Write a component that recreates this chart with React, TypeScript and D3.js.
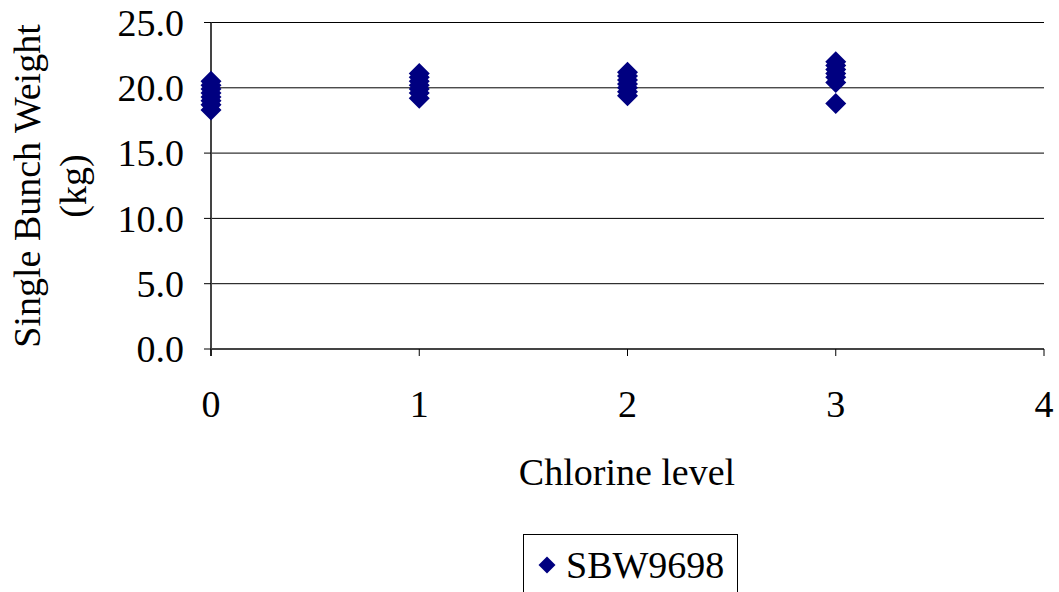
import React from "react";
import * as d3 from "d3";

// Chlorine level treatments and the single bunch weights (kg) recorded at each
const chlorineLevels = [0, 1, 2, 3];
const weightsLevel0 = [20.5, 20.2, 19.9, 19.6, 19.3, 19.0, 18.7, 18.3];
const weightsLevel1 = [21.1, 20.8, 20.5, 20.2, 19.9, 19.6, 19.2];
const weightsLevel2 = [21.2, 20.9, 20.6, 20.3, 20.0, 19.7, 19.4];
const weightsLevel3 = [22.0, 21.7, 21.4, 21.1, 20.8, 20.4, 18.8];
const yTicks = [0, 5, 10, 15, 20, 25];
const xTicks = [0, 1, 2, 3, 4];
const seriesName = "SBW9698";

const W = 1059;
const H = 592;
const FONT = '"Liberation Serif", "DejaVu Serif", serif';

const diamondPath = (r: number) => {
  const p = d3.path();
  p.moveTo(0, -r);
  p.lineTo(r, 0);
  p.lineTo(0, r);
  p.lineTo(-r, 0);
  p.closePath();
  return p.toString();
};

const txt: React.CSSProperties = { fontFamily: FONT, fontSize: 38 };

export default function App() {
  const x = d3.scaleLinear().domain([0, 4]).range([211, 1044]);
  const y = d3.scaleLinear().domain([0, 25]).range([349, 22.5]);

  const groups = [weightsLevel0, weightsLevel1, weightsLevel2, weightsLevel3];
  const points = groups.flatMap((vals, i) =>
    vals.map((v) => ({ level: chlorineLevels[i], value: v }))
  );

  const diamond = diamondPath(10.5);
  const legendDiamond = diamondPath(8.5);

  return (
    <svg
      width={W}
      height={H}
      style={{ position: "fixed", left: 0, top: 0, background: "#fff" }}
    >
      {/* horizontal gridlines */}
      {yTicks.filter((t) => t > 0).map((t) => (
        <line key={t} x1={x(0)} x2={x(4)} y1={y(t)} y2={y(t)} stroke="#000" strokeWidth={1} />
      ))}
      {/* y axis */}
      <line x1={x(0)} x2={x(0)} y1={y(25)} y2={y(0) + 7} stroke="#444" strokeWidth={2} />
      {yTicks.map((t) => (
        <g key={t}>
          <line x1={x(0) - 7} x2={x(0)} y1={y(t)} y2={y(t)} stroke="#000" strokeWidth={1} />
          <text x={184} y={y(t)} dy="0.35em" textAnchor="end" style={txt} fill="#000">
            {d3.format(".1f")(t)}
          </text>
        </g>
      ))}
      {/* x axis */}
      <line x1={x(0)} x2={x(4)} y1={y(0)} y2={y(0)} stroke="#444" strokeWidth={2} />
      {xTicks.map((t) => (
        <g key={t}>
          <line x1={x(t)} x2={x(t)} y1={y(0)} y2={y(0) + 7} stroke="#000" strokeWidth={1} />
          <text x={x(t)} y={417} textAnchor="middle" style={txt} fill="#000">
            {t}
          </text>
        </g>
      ))}
      {/* axis titles */}
      <text x={627} y={485} textAnchor="middle" style={txt} fill="#000">
        Chlorine level
      </text>
      <g transform="translate(40,186) rotate(-90)">
        <text x={0} y={0} textAnchor="middle" style={txt} fill="#000">
          Single Bunch Weight
        </text>
        <text x={0} y={46} textAnchor="middle" style={txt} fill="#000">
          (kg)
        </text>
      </g>
      {/* data points */}
      {points.map((p, i) => (
        <path
          key={i}
          d={diamond}
          transform={`translate(${x(p.level)},${y(p.value)})`}
          fill="#000080"
        />
      ))}
      {/* legend */}
      <rect x={523.5} y={534.5} width={214} height={70} fill="#fff" stroke="#000" strokeWidth={1} />
      <path d={legendDiamond} transform="translate(547,565)" fill="#000080" />
      <text x={566} y={565} dy="0.35em" style={txt} fill="#000">
        {seriesName}
      </text>
    </svg>
  );
}
